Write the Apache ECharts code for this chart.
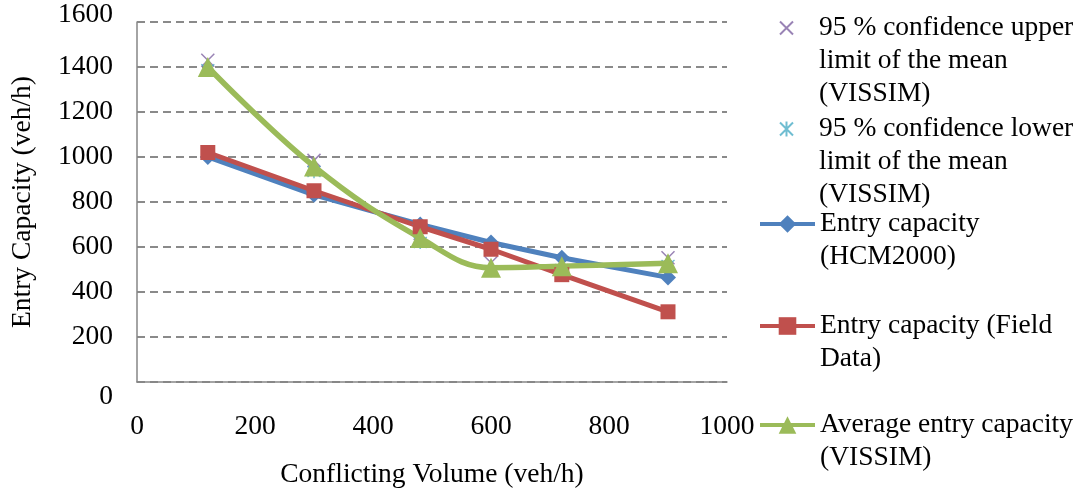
<!DOCTYPE html>
<html>
<head>
<meta charset="utf-8">
<script src="https://cdn.jsdelivr.net/npm/echarts@6/dist/echarts.min.js"></script>
<style>
  html, body { margin: 0; padding: 0; background: #fff; }
  #main { width: 1081px; height: 491px; }
</style>
</head>
<body>
<div id="main"></div>
<script>
// conflicting volume (veh/h)
var volume = [120, 300, 480, 600, 720, 900];
// entry capacity (veh/h)
var upperVissim = [1430, 985, 660, 530, 530, 552];
var lowerVissim = [1388, 935, 620, 495, 500, 518];
var hcm2000 = [1000, 832, 700, 620, 552, 465];
var fieldData = [1020, 850, 690, 590, 477, 312];
var avgVissim = [1400, 958, 640, 508, 515, 528];

var seriesNames = [
  '95 % confidence upper\nlimit of the mean\n(VISSIM)',
  '95 % confidence lower\nlimit of the mean\n(VISSIM)',
  'Entry capacity\n(HCM2000)',
  'Entry capacity (Field\nData)',
  'Average entry capacity\n(VISSIM)'
];

var font = 'Liberation Serif';
var fs = 27.5;
var lineH = 33;
var legendCenters = [28, 129, 224, 326, 425];

function pairs(ys) {
  return volume.map(function (x, i) { return [x, ys[i]]; });
}

var crossPath = 'path://M0,0L10,10M10,0L0,10';
var starPath = 'path://M0,0L10,10M10,0L0,10M5,-1L5,11';
// same marks, placed in the middle of a 55x22 legend box
var crossIcon = 'path://M0,0M55,22M21,4.5L34,17.5M34,4.5L21,17.5';
var starIcon = 'path://M0,0M55,22M21,4.5L34,17.5M34,4.5L21,17.5M27.5,3.5L27.5,18.5';
var legendIcons = [crossIcon, starIcon, null, null, null];

var legends = seriesNames.map(function (name, i) {
  var n = name.split('\n').length;
  var item = { name: name };
  if (legendIcons[i]) item.icon = legendIcons[i];
  return {
    data: [item],
    left: 758,
    top: legendCenters[i] - (lineH / 2) * (2 * n - 1),
    orient: 'vertical',
    padding: 0,
    itemWidth: 55,
    itemHeight: 22,
    selectedMode: false,
    lineStyle: { width: 4 },
    // blank lines on top so the first text line sits level with the icon
    formatter: function (nm) {
      return new Array(n).join('\n') + nm;
    },
    textStyle: { fontFamily: font, fontSize: fs, lineHeight: lineH, color: '#000' }
  };
});

var option = {
  animation: false,
  backgroundColor: '#fff',
  legend: legends,
  grid: { left: 137, right: 354, top: 22, bottom: 109, outerBoundsMode: 'none' },
  xAxis: {
    type: 'value',
    min: 0,
    max: 1000,
    interval: 200,
    name: 'Conflicting Volume (veh/h)',
    nameLocation: 'middle',
    nameGap: 79,
    nameTextStyle: { fontFamily: font, fontSize: fs, color: '#000' },
    axisLine: { show: true, lineStyle: { color: '#868686', width: 1.5 } },
    axisTick: { show: false },
    splitLine: { show: false },
    axisLabel: {
      fontFamily: font, fontSize: fs, color: '#000', margin: 31,
      formatter: function (v) { return '' + v; }
    }
  },
  yAxis: {
    type: 'value',
    min: 0,
    max: 1600,
    interval: 200,
    name: 'Entry Capacity (veh/h)',
    nameLocation: 'middle',
    nameGap: 100,
    nameTextStyle: { fontFamily: font, fontSize: fs, color: '#000' },
    axisLine: { show: true, lineStyle: { color: '#868686', width: 1.5 } },
    axisTick: { show: false },
    splitLine: { show: true, lineStyle: { color: '#8a8a8a', width: 2, type: [8, 5] } },
    axisLabel: {
      fontFamily: font, fontSize: fs, color: '#000', margin: 24,
      formatter: function (v) {
        if (v === 1600) return '{t|' + v + '}';
        if (v === 0) return '{b|' + v + '}';
        return '' + v;
      },
      rich: {
        t: { fontFamily: font, fontSize: fs, color: '#000', padding: [0, 0, 14, 0] },
        b: { fontFamily: font, fontSize: fs, color: '#000', padding: [30, 0, 0, 0] }
      }
    }
  },
  series: [
    {
      name: seriesNames[0],
      type: 'scatter',
      data: pairs(upperVissim),
      symbol: crossPath,
      symbolSize: 13,
      itemStyle: { color: '#8064A2', borderColor: '#8064A2', borderWidth: 1.5 }
    },
    {
      name: seriesNames[1],
      type: 'scatter',
      data: pairs(lowerVissim),
      symbol: starPath,
      symbolSize: 13,
      itemStyle: { color: '#4BACC6', borderColor: '#4BACC6', borderWidth: 1.5 }
    },
    {
      name: seriesNames[2],
      type: 'line',
      data: pairs(hcm2000),
      symbol: 'diamond',
      symbolSize: 16,
      lineStyle: { color: '#4F81BD', width: 5 },
      itemStyle: { color: '#4F81BD' }
    },
    {
      name: seriesNames[3],
      type: 'line',
      data: pairs(fieldData),
      symbol: 'rect',
      symbolSize: 15,
      lineStyle: { color: '#C0504D', width: 5 },
      itemStyle: { color: '#C0504D' }
    },
    {
      name: seriesNames[4],
      type: 'line',
      data: pairs(avgVissim),
      smooth: 0.4,
      symbol: 'triangle',
      symbolSize: 20,
      lineStyle: { color: '#9BBB59', width: 5.5 },
      itemStyle: { color: '#9BBB59' }
    }
  ]
};

var chart = echarts.init(document.getElementById('main'), null, { renderer: 'canvas' });
chart.setOption(option);
</script>
</body>
</html>
